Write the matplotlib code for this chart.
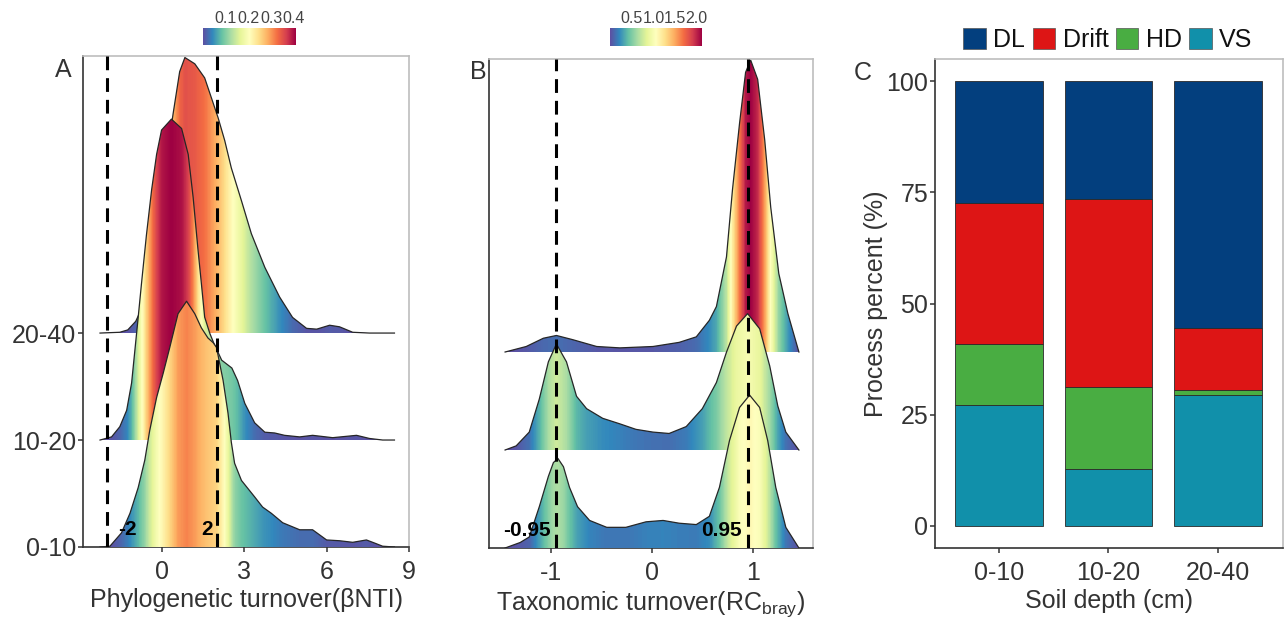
import numpy as np
import matplotlib
matplotlib.use("Agg")
import matplotlib.pyplot as plt
from matplotlib.patches import Patch

plt.rcParams['font.family'] = ['Liberation Sans', 'DejaVu Sans']
plt.rcParams['axes.unicode_minus'] = False

# ---------------- data ----------------
depths = ["0-10", "10-20", "20-40"]

# Panel A: density of betaNTI per depth
a_x_0_10 = [-2.25, -1.89, -1.47, -1.16, -0.86, -0.62, -0.44, -0.19, 0.05, 0.29, 0.59, 0.90,
            1.20, 1.44, 1.68, 1.87, 1.99, 2.23, 2.41, 2.53, 2.65, 2.90, 3.38, 3.67, 3.99,
            4.40, 5.02, 5.49, 6.00, 6.47, 6.95, 7.45, 7.75, 8.04, 8.47]
a_d_0_10 = [0.000, 0.001, 0.018, 0.043, 0.076, 0.111, 0.149, 0.191, 0.222, 0.255, 0.298, 0.314,
            0.298, 0.280, 0.267, 0.261, 0.255, 0.213, 0.171, 0.134, 0.107, 0.085, 0.064, 0.051, 0.043,
            0.031, 0.022, 0.022, 0.009, 0.008, 0.006, 0.009, 0.005, 0.001, 0.000]

a_x_10_20 = [-2.25, -1.83, -1.53, -1.28, -1.10, -0.98, -0.86, -0.74, -0.56, -0.37, -0.19, -0.01,
             0.35, 0.72, 0.96, 1.14, 1.32, 1.44, 1.56, 1.75, 1.89, 2.18, 2.55, 2.76, 3.02,
             3.38, 3.75, 4.11, 4.47, 5.02, 5.49, 6.22, 7.09, 7.56, 8.04, 8.47]
a_d_10_20 = [0.000, 0.004, 0.017, 0.038, 0.073, 0.115, 0.157, 0.200, 0.262, 0.320, 0.365, 0.396,
             0.410, 0.398, 0.365, 0.310, 0.242, 0.200, 0.157, 0.136, 0.124, 0.102, 0.092, 0.076, 0.047,
             0.022, 0.010, 0.009, 0.006, 0.004, 0.006, 0.003, 0.006, 0.002, 0.000, 0.000]

a_x_20_40 = [-2.25, -1.53, -1.24, -0.95, -0.62, -0.25, 0.04, 0.41, 0.65, 0.84, 1.20, 1.56,
             1.81, 2.05, 2.29, 2.53, 2.90, 3.26, 3.75, 4.29, 4.76, 5.27, 5.64, 6.11, 6.47,
             6.95, 7.56, 8.47]
a_d_20_40 = [0.000, 0.001, 0.004, 0.015, 0.040, 0.100, 0.190, 0.280, 0.334, 0.352, 0.344, 0.326,
             0.300, 0.275, 0.246, 0.211, 0.169, 0.127, 0.084, 0.046, 0.020, 0.006, 0.005, 0.010, 0.008,
             0.001, 0.000, 0.000]

# Panel B: density of RCbray per depth
b_x_0_10 = [-1.46, -1.31, -1.22, -1.12, -1.03, -0.98, -0.935, -0.88, -0.82, -0.74, -0.62, -0.45,
            -0.26, -0.06, 0.11, 0.27, 0.44, 0.57, 0.67, 0.77, 0.87, 0.97, 1.07, 1.15, 1.23, 1.33, 1.46]
b_d_0_10 = [0.00, 0.04, 0.08, 0.30, 0.52, 0.62, 0.65, 0.59, 0.44, 0.30, 0.20, 0.15,
            0.15, 0.19, 0.20, 0.18, 0.17, 0.23, 0.44, 0.78, 1.02, 1.11, 1.02, 0.78, 0.44, 0.15, 0.00]

b_x_10_20 = [-1.46, -1.35, -1.22, -1.12, -1.03, -0.95, -0.85, -0.75, -0.65, -0.49, -0.32, -0.16,
             0.01, 0.17, 0.34, 0.50, 0.64, 0.74, 0.84, 0.95, 1.07, 1.17, 1.25, 1.33, 1.46]
b_d_10_20 = [0.00, 0.03, 0.13, 0.37, 0.64, 0.77, 0.64, 0.39, 0.30, 0.23, 0.19, 0.15,
             0.13, 0.12, 0.17, 0.30, 0.49, 0.71, 0.90, 0.99, 0.88, 0.61, 0.32, 0.13, 0.00]

b_x_20_40 = [-1.46, -1.25, -1.08, -0.95, -0.79, -0.55, -0.32, 0.01, 0.27, 0.44, 0.57, 0.64,
             0.74, 0.80, 0.87, 0.93, 0.98, 1.05, 1.12, 1.18, 1.26, 1.35, 1.46]
b_d_20_40 = [0.00, 0.04, 0.10, 0.12, 0.09, 0.04, 0.03, 0.04, 0.07, 0.11, 0.23, 0.33,
             0.69, 1.18, 1.66, 2.03, 2.12, 1.98, 1.54, 1.05, 0.57, 0.28, 0.00]

a_lines = [-2, 2]
b_lines = [-0.95, 0.95]

# Panel C: process percentages
processes = ["DL", "Drift", "HD", "VS"]
vs = [27.1, 12.7, 29.4]
hd = [13.7, 18.6, 1.1]
drift = [31.9, 42.3, 14.0]
dl = [27.3, 26.4, 55.5]
proc_colors = {"DL": "#033f7e", "Drift": "#dd1515", "HD": "#49ad42", "VS": "#1190aa"}

# ---------------- figure ----------------
W, H = 1285, 623
fig = plt.figure(figsize=(W / 100, H / 100), dpi=100)

def fbox(l, t, r, b):
    return [l / W, 1 - b / H, (r - l) / W, (b - t) / H]

TXT = "#333333"
FS = 18
cmap = plt.get_cmap("Spectral_r")


def style_axes(ax):
    for s in ["left", "bottom"]:
        ax.spines[s].set_color("#333333")
        ax.spines[s].set_linewidth(1.2)
    for s in ["top", "right"]:
        ax.spines[s].set_color("#bdbdbd")
        ax.spines[s].set_linewidth(1.2)
    ax.tick_params(colors="#333333", labelcolor=TXT, labelsize=FS, length=3.5, width=1.1)
    ax.tick_params(axis="x", pad=6)
    ax.tick_params(axis="y", pad=1.5)


def ridge(ax, xs, ds, base, scale, vmax, z):
    xs = np.asarray(xs, float)
    ds = np.asarray(ds, float)
    top = base + ds * scale
    poly = ax.fill_between(xs, base, top, facecolor="none", edgecolor="none", zorder=z)
    xf = np.linspace(xs.min(), xs.max(), 800)
    col = np.interp(xf, xs, ds)[None, :]
    im = ax.imshow(col, extent=[xs.min(), xs.max(), base, top.max()], aspect="auto",
                   cmap=cmap, vmin=0, vmax=vmax, origin="lower", zorder=z,
                   interpolation="nearest")
    path = poly.get_paths()[0]
    im.set_clip_path(path, transform=ax.transData)
    ax.plot(xs, top, color="#262626", lw=0.9, zorder=z + 0.1)


def colorbar(rect, vmax, ticks, labels):
    cax = fig.add_axes(rect)
    grad = np.linspace(0, vmax, 256)[None, :]
    cax.imshow(grad, extent=[0, vmax, 0, 1], aspect="auto", cmap=cmap, vmin=0, vmax=vmax)
    cax.set_xlim(0, vmax)
    cax.set_yticks([])
    cax.xaxis.tick_top()
    cax.set_xticks(ticks)
    cax.set_xticklabels(labels)
    cax.tick_params(axis="x", length=0, pad=1.5, labelsize=11.5, labelcolor="#444444")
    for s in cax.spines.values():
        s.set_visible(False)


# ---- Panel A ----
axA = fig.add_axes(fbox(83, 56, 409, 547))
scaleA = 3.0 / 0.41
ridge(axA, a_x_20_40, a_d_20_40, 3, scaleA, 0.41, 2)
ridge(axA, a_x_10_20, a_d_10_20, 2, scaleA, 0.41, 3)
ridge(axA, a_x_0_10, a_d_0_10, 1, scaleA, 0.41, 4)
for v in a_lines:
    axA.axvline(v, color="black", lw=2.2, ls=(0, (4.5, 2.6)), zorder=6)
axA.text(-1.27, 1.16, "-2", fontsize=15, fontweight="bold", ha="center", va="center", zorder=7)
axA.text(1.64, 1.16, "2", fontsize=15, fontweight="bold", ha="center", va="center", zorder=7)
axA.set_xlim(-2.87, 9.0)
axA.set_ylim(1, 5.59)
axA.set_xticks([0, 3, 6, 9])
axA.set_yticks([1, 2, 3])
axA.set_yticklabels(depths)
style_axes(axA)
axA.set_xlabel("Phylogenetic turnover(βNTI)", fontsize=FS, color=TXT, labelpad=3)
colorbar(fbox(203, 28, 296, 45), 0.41, [0.1, 0.2, 0.3, 0.4], ["0.1", "0.2", "0.3", "0.4"])

# ---- Panel B ----
axB = fig.add_axes(fbox(489, 59, 813, 548))
scaleB = 2.98 / 2.12
ridge(axB, b_x_20_40, b_d_20_40, 3, scaleB, 2.12, 2)
ridge(axB, b_x_10_20, b_d_10_20, 2, scaleB, 2.12, 3)
ridge(axB, b_x_0_10, b_d_0_10, 1, scaleB, 2.12, 4)
for v in b_lines:
    axB.axvline(v, color="black", lw=2.2, ls=(0, (4.5, 2.6)), zorder=6)
axB.text(-1.245, 1.18, "-0.95", fontsize=15, fontweight="bold", ha="center", va="center", zorder=7)
axB.text(0.69, 1.18, "0.95", fontsize=15, fontweight="bold", ha="center", va="center", zorder=7)
axB.set_xlim(-1.62, 1.60)
axB.set_ylim(1, 5.99)
axB.set_xticks([-1, 0, 1])
axB.set_yticks([])
style_axes(axB)
axB.set_xlabel(r"Taxonomic turnover(RC$_\mathregular{bray}$)", fontsize=FS, color=TXT, labelpad=3)
colorbar(fbox(610, 28, 702, 46), 2.12, [0.5, 1.0, 1.5, 2.0], ["0.5", "1.0", "1.5", "2.0"])

# ---- Panel C ----
axC = fig.add_axes(fbox(935, 59, 1283, 548))
xpos = np.arange(1, len(depths) + 1)
bottom = np.zeros(len(depths))
for name, vals in [("VS", vs), ("HD", hd), ("Drift", drift), ("DL", dl)]:
    axC.bar(xpos, vals, width=0.8, bottom=bottom, color=proc_colors[name],
            edgecolor="#2a2a2a", linewidth=0.6, label=name, zorder=2)
    bottom = bottom + np.asarray(vals)
axC.set_xlim(0.42, 3.59)
axC.set_ylim(-5, 105)
axC.set_xticks(xpos)
axC.set_xticklabels(depths)
axC.set_yticks([0, 25, 50, 75, 100])
style_axes(axC)
axC.set_xlabel("Soil depth (cm)", fontsize=FS, color=TXT, labelpad=3)
axC.set_ylabel("Process percent (%)", fontsize=FS, color=TXT, labelpad=-1)

handles = [Patch(facecolor=proc_colors[p], edgecolor="#555555", linewidth=0.5, label=p) for p in processes]
fig.legend(handles=handles, loc="center", bbox_to_anchor=(1108 / W, 1 - 40 / H), ncol=4,
           frameon=False, fontsize=FS, handlelength=0.9, handleheight=0.9,
           handletextpad=0.3, columnspacing=0.3, labelcolor="#111111", borderaxespad=0)

# panel letters
fig.text(63 / W, 1 - 70 / H, "A", fontsize=18, color=TXT, ha="center", va="center")
fig.text(478 / W, 1 - 72 / H, "B", fontsize=18, color=TXT, ha="center", va="center")
fig.text(863 / W, 1 - 73 / H, "C", fontsize=18, color=TXT, ha="center", va="center")

fig.savefig("out.png", dpi=100)
